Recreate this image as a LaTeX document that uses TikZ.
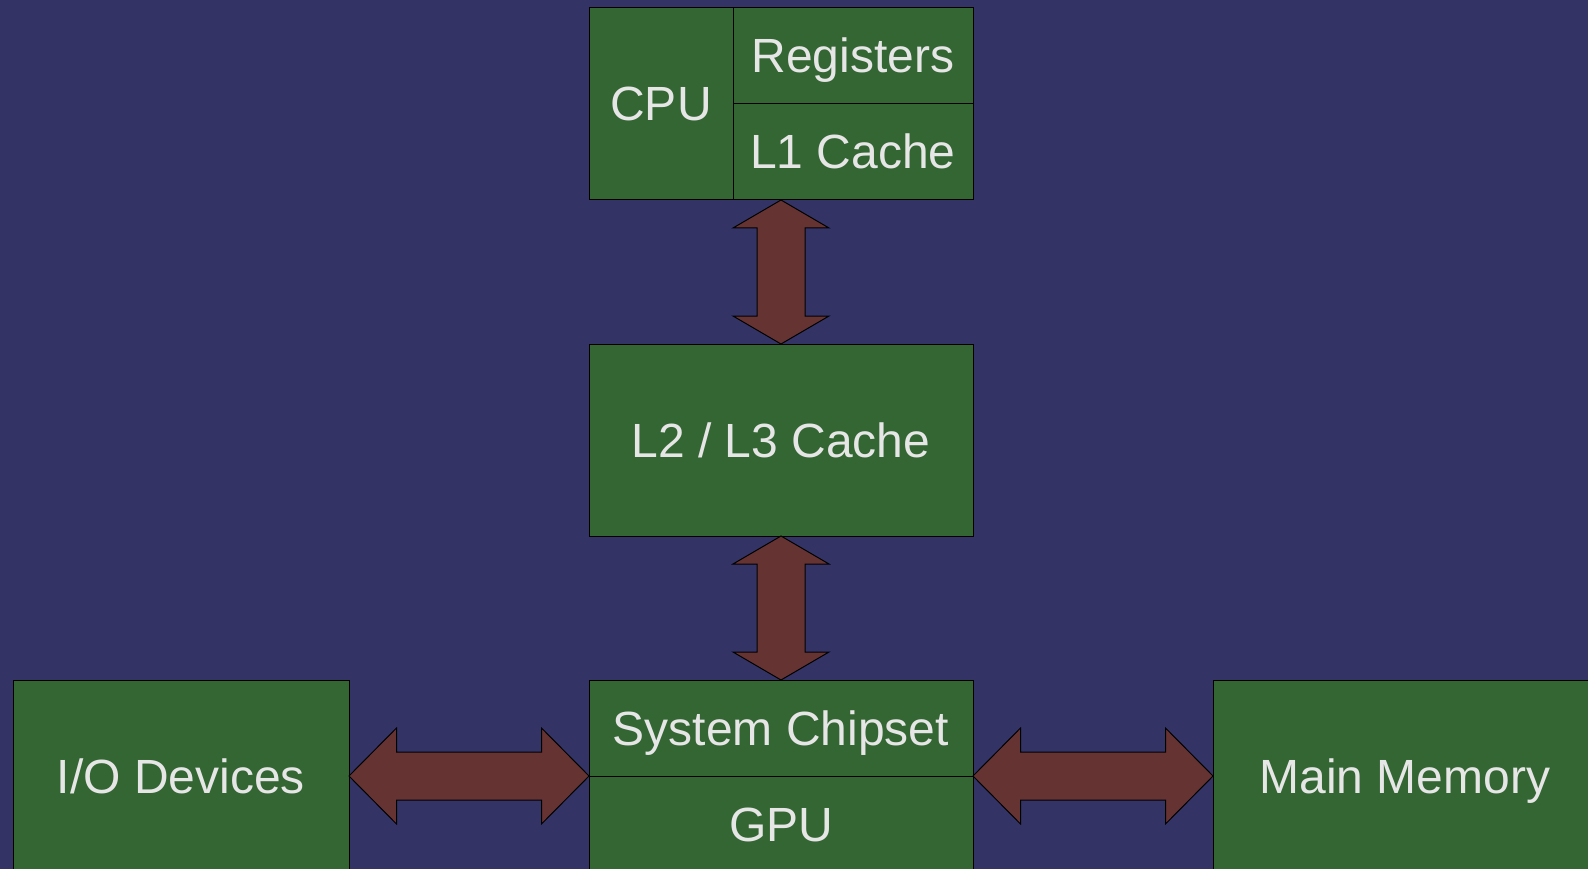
\documentclass[tikz,border=0pt]{standalone}
\usepackage{fontspec}
\setmainfont{Liberation Sans}
\usetikzlibrary{calc}
\definecolor{bgblue}{RGB}{51,51,102}
\definecolor{boxgreen}{RGB}{51,102,51}
\definecolor{arrowred}{RGB}{102,51,51}
\definecolor{labelgray}{RGB}{230,230,230}
\tikzset{
  block/.style={draw=black, line width=1pt, fill=boxgreen, inner sep=0pt, outer sep=0pt,
    text=labelgray, font=\fontsize{48}{58}\selectfont, text height=34pt, text depth=0pt, align=center},
  link/.style={draw=black, line width=1pt, fill=arrowred, line join=miter},
}
% vertical double block arrow between a top point and a bottom point
\newcommand\vconn[2]{\path[link] let \p1=(#1), \p2=(#2) in
  (\x1,\y1) -- (\x1+48pt,\y1-28pt) -- (\x1+24pt,\y1-28pt) -- (\x1+24pt,\y2+28pt)
  -- (\x1+48pt,\y2+28pt) -- (\x1,\y2) -- (\x1-48pt,\y2+28pt) -- (\x1-24pt,\y2+28pt)
  -- (\x1-24pt,\y1-28pt) -- (\x1-48pt,\y1-28pt) -- cycle;}
% horizontal double block arrow between a left point and a right point
\newcommand\hconn[2]{\path[link] let \p1=(#1), \p2=(#2) in
  (\x1,\y1) -- (\x1+47.5pt,\y1+48pt) -- (\x1+47.5pt,\y1+24pt) -- (\x2-47.5pt,\y1+24pt)
  -- (\x2-47.5pt,\y1+48pt) -- (\x2,\y1) -- (\x2-47.5pt,\y1-48pt) -- (\x2-47.5pt,\y1-24pt)
  -- (\x1+47.5pt,\y1-24pt) -- (\x1+47.5pt,\y1-48pt) -- cycle;}
\begin{document}
\begin{tikzpicture}[x=1pt,y=-1pt]
\fill[bgblue] (0,0) rectangle (1588,869);
\useasboundingbox (0,0) rectangle (1588,869);
\clip (0,0) rectangle (1588,869);

% processor block
\node[block, minimum width=144, minimum height=192] (cpu) at (661,104) {CPU};
\node[block, minimum width=240, minimum height=96] (reg) at (853,56) {Registers};
\node[block, minimum width=240, minimum height=96] (l1) at (853,152) {L1 Cache};

% shared cache
\node[block, minimum width=384, minimum height=192] (l2) at (781,440) {L2 / L3 Cache};

% chipset and peripherals
\node[block, minimum width=384, minimum height=96] (chip) at (781,728) {System Chipset};
\node[block, minimum width=384, minimum height=96] (gpu) at (781,824) {GPU};
\node[block, minimum width=336, minimum height=192] (io) at (181,776) {I/O Devices};
\node[block, minimum width=384, minimum height=192] (mem) at (1405,776) {Main Memory};

% data paths
\vconn{l2.north |- l1.south}{l2.north}
\vconn{l2.south}{chip.north}
\hconn{io.east}{chip.south west}
\hconn{chip.south east}{mem.west}
\end{tikzpicture}
\end{document}
